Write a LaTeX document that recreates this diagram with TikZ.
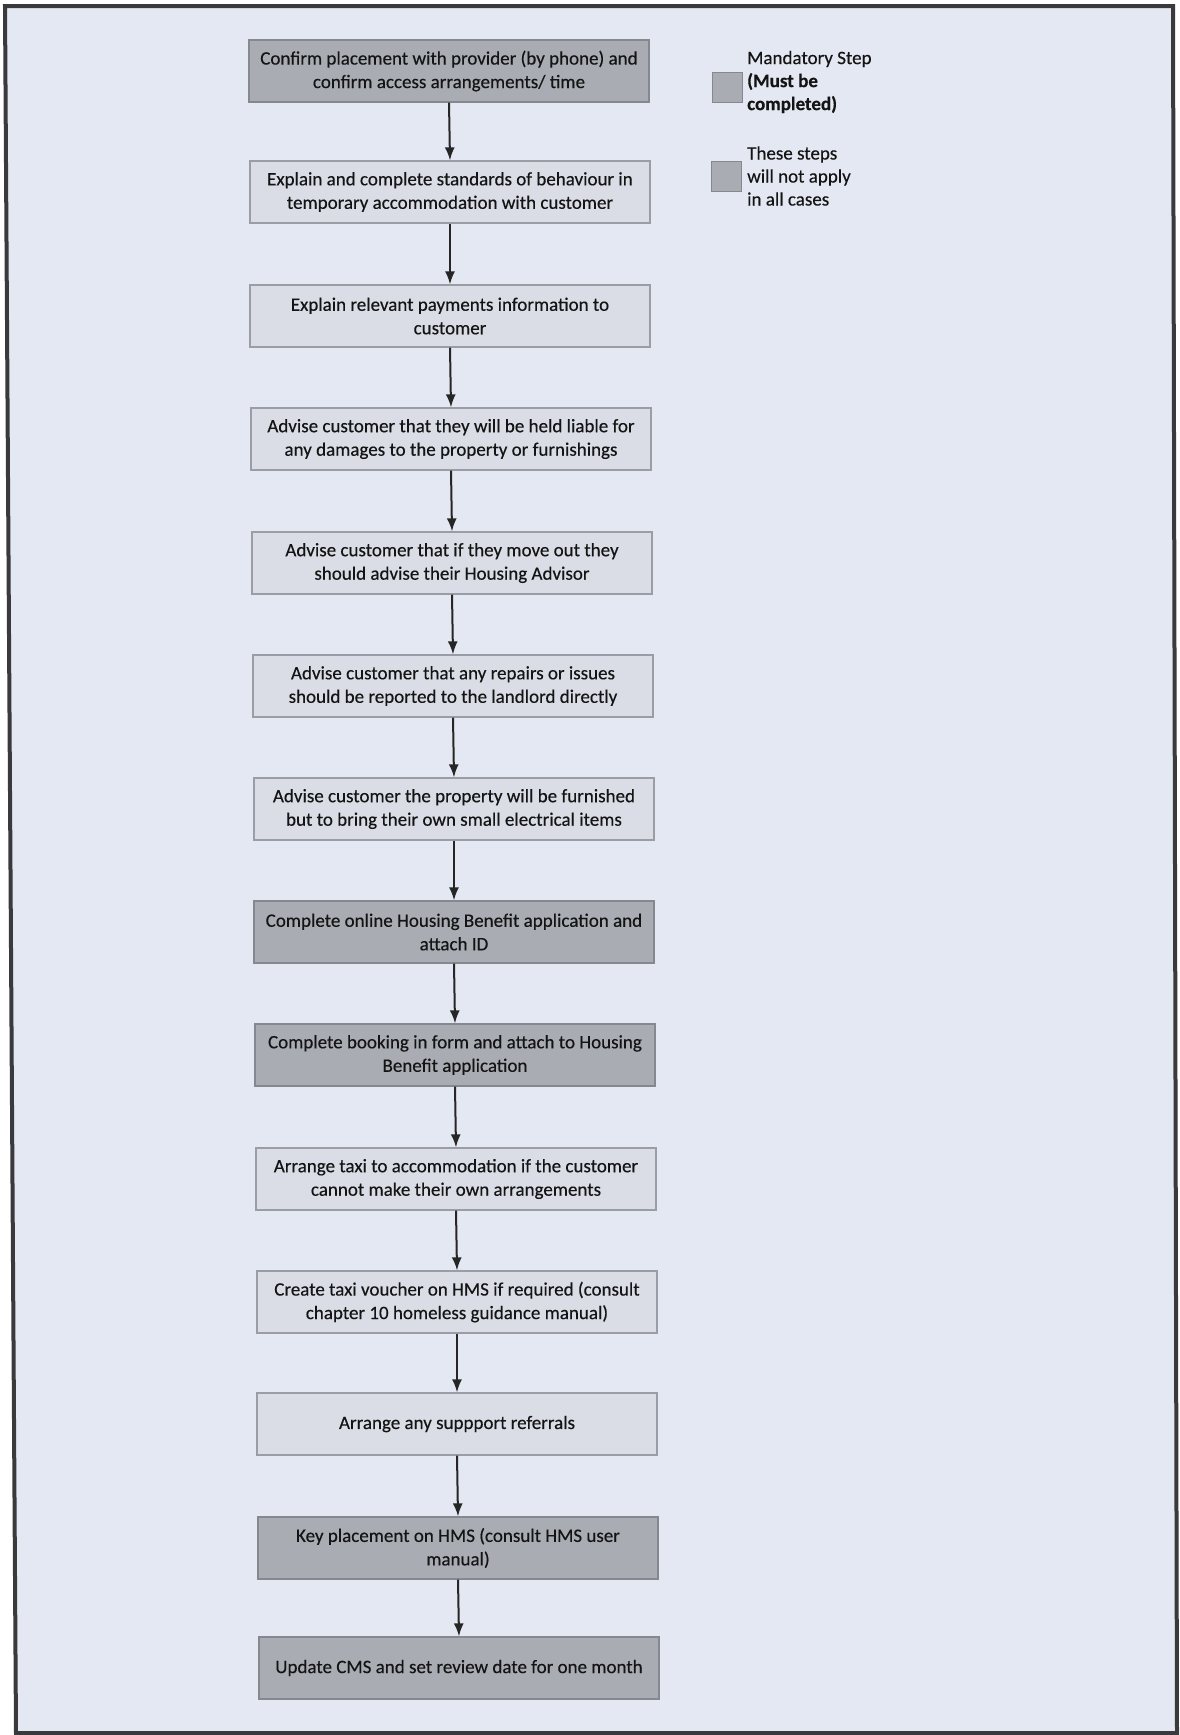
\documentclass[tikz,border=0pt]{standalone}
\usepackage{fontspec}
\setmainfont{Carlito}
\newfontfamily\boxfont[FakeBold=0.35]{Carlito}
\usetikzlibrary{arrows.meta}
\definecolor{bgc}{HTML}{E4E8F2}
\definecolor{darkfill}{HTML}{A9ACB3}
\definecolor{darkline}{HTML}{85888F}
\definecolor{lightfill}{HTML}{DADDE6}
\definecolor{lightline}{HTML}{9A9DA4}
\definecolor{framec}{HTML}{3A3A3C}
\tikzset{
  basebox/.style={minimum width=400pt, minimum height=62pt, inner sep=0pt, align=center,
    font=\boxfont\fontsize{19}{23.5}\selectfont, text=black!92, line width=1.2pt},
  mand/.style={basebox, fill=darkfill, draw=darkline},
  opt/.style={basebox, fill=lightfill, draw=lightline},
  flow/.style={-{Latex[length=13pt,width=10pt]}, line width=2pt, black!85},
  legsq/.style={minimum width=30pt, minimum height=30pt, inner sep=0pt, fill=darkfill, draw=darkline, line width=1pt},
  legtxt/.style={anchor=west, align=left, inner sep=0pt, font=\boxfont\fontsize{19}{23}\selectfont, text=black!92}
}
\begin{document}
\begin{tikzpicture}[x=1pt,y=-1pt]
\useasboundingbox (0,0) rectangle (1179,1735);
\fill[white] (0,0) rectangle (1179,1735);
\coordinate (tl) at (5,6);
\coordinate (tr) at (1173,6);
\coordinate (br) at (1177,1733);
\coordinate (bl) at (16,1733);
\filldraw[fill=bgc, draw=framec, line width=4pt] (tl) -- (tr) -- (br) -- (bl) -- cycle;

\node[mand] (b1)  at (449,71)   {Confirm placement with provider (by phone) and\\confirm access arrangements/ time};
\node[opt]  (b2)  at (450,192)  {Explain and complete standards of behaviour in\\temporary accommodation with customer};
\node[opt]  (b3)  at (450,316)  {Explain relevant payments information to\\customer};
\node[opt]  (b4)  at (451,439)  {Advise customer that they will be held liable for\\any damages to the property or furnishings};
\node[opt]  (b5)  at (452,563)  {Advise customer that if they move out they\\should advise their Housing Advisor};
\node[opt]  (b6)  at (453,686)  {Advise customer that any repairs or issues\\should be reported to the landlord directly};
\node[opt]  (b7)  at (454,809)  {Advise customer the property will be furnished\\but to bring their own small electrical items};
\node[mand] (b8)  at (454,932)  {Complete online Housing Benefit application and\\attach ID};
\node[mand] (b9)  at (455,1055) {Complete booking in form and attach to Housing\\Benefit application};
\node[opt]  (b10) at (456,1179) {Arrange taxi to accommodation if the customer\\cannot make their own arrangements};
\node[opt]  (b11) at (457,1302) {Create taxi voucher on HMS if required (consult\\chapter 10 homeless guidance manual)};
\node[opt]  (b12) at (457,1424) {Arrange any suppport referrals};
\node[mand] (b13) at (458,1548) {Key placement on HMS (consult HMS user\\manual)};
\node[mand] (b14) at (459,1668) {Update CMS and set review date for one month};

\foreach \a/\b in {b1/b2,b2/b3,b3/b4,b4/b5,b5/b6,b6/b7,b7/b8,b8/b9,b9/b10,b10/b11,b11/b12,b12/b13,b13/b14}
  \draw[flow] (\a.south) -- (\b.north);

\node[legsq] (lg1) at (727,87) {};
\node[legsq] (lg2) at (726,176) {};
\node[legtxt] (lt1) at (747,82) {Mandatory Step\\\textbf{(Must be}\\\textbf{completed)}};
\node[legtxt] (lt2) at (747,176) {These steps\\will not apply\\in all cases};
\end{tikzpicture}
\end{document}
